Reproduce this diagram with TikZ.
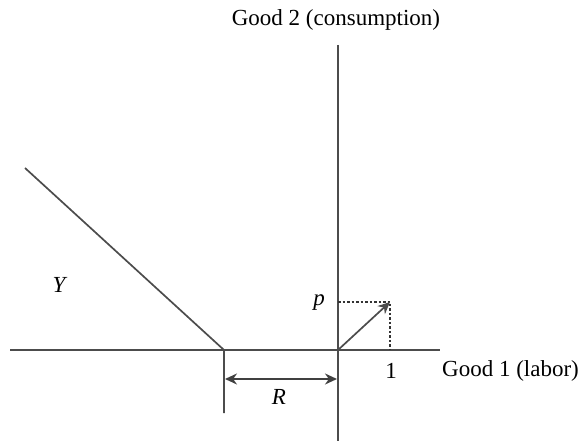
\documentclass[tikz,border=0pt]{standalone}
\usepackage{fontspec}
\setmainfont{Liberation Serif}
\usetikzlibrary{positioning,arrows.meta}

\begin{document}
\begin{tikzpicture}[
  x=1pt, y=-1pt,
  axis/.style={draw=black!70, line width=1.7pt},
  guide/.style={draw=black!80, dash pattern=on 2.5pt off 2pt, line width=1.3pt},
  lbl/.style={font=\fontsize{23}{26}\selectfont, inner sep=1pt},
  tip/.style={-{Stealth[length=12pt,width=11pt]}},
  dim/.style={{Stealth[length=12pt,width=11pt]}-{Stealth[length=12pt,width=11pt]}, draw=black!75, line width=1.7pt}
]
\useasboundingbox (0,0) rectangle (582,441);

% axes
\coordinate (xl) at (10,350);
\coordinate (xr) at (440,350);
\coordinate (yt) at (338,45);
\coordinate (yb) at (338,441);
\coordinate (o) at (338,350);
\draw[axis] (xl) -- (xr);
\draw[axis] (yt) -- (yb);

% shifted set Y
\coordinate (k) at (224,350);
\coordinate (kb) at (224,413);
\coordinate (ye) at (25,168);
\draw[axis] (ye) -- (k) -- (kb);

% price vector
\coordinate (pv) at (390,302);
\coordinate (py) at (338,302);
\coordinate (px) at (390,350);
\draw[guide] (py) -- (pv) -- (px);
\draw[axis, tip] (o) -- (pv);

% distance R
\coordinate (ra) at (225,379);
\coordinate (rb) at (337,379);
\draw[dim] (ra) -- (rb);

% labels
\node[lbl] (good2) at (336,20) {Good 2 (consumption)};
\node[lbl, anchor=west] (good1) at (441,371) {Good 1 (labor)};
\node[lbl] (one) at (391,371) {1};
\node[lbl] (plbl) at (319,303) {\textit{p}};
\node[lbl] (rlbl) at (279,397) {\textit{R}};
\node[lbl] (ylbl) at (60,285) {\textit{Y}};
\end{tikzpicture}
\end{document}
